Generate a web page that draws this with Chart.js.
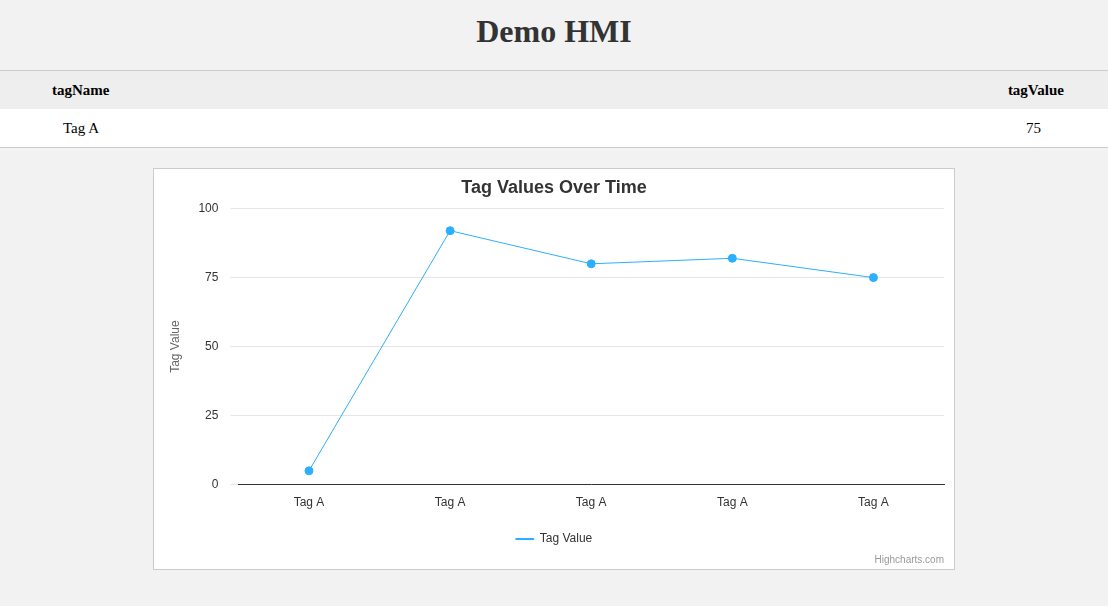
<!DOCTYPE html>
<html><head><meta charset="utf-8">
<script src="https://cdn.jsdelivr.net/npm/chart.js@4"></script>
<style>
body{margin:0;background:#f2f2f2;font-family:"Times New Roman","Liberation Serif",serif;width:1108px;height:606px;overflow:hidden}
h1{margin:0;height:62px;line-height:62px;text-align:center;font-size:32px;color:#333}
table{position:absolute;top:70px;left:0;width:1108px;border-collapse:collapse;border-top:1px solid #ccc;border-bottom:1px solid #ccc;font-size:15px}
th{height:38px;background:#eee;padding:0}
td{height:38px;background:#fff;padding:0}
.l{text-align:left;padding-left:52px}.r{text-align:right;padding-right:44px}
td.l{padding-left:63px}td.r{padding-right:67px}
#box{position:absolute;left:153px;top:168px;width:800px;height:400px;background:#fff;border:1px solid #ccc}
#credit{position:absolute;right:10px;bottom:4px;font:10px "Liberation Sans",Arial,sans-serif;color:#999}
</style></head><body>
<h1>Demo HMI</h1>
<table><tr><th class="l">tagName</th><th class="r">tagValue</th></tr>
<tr><td class="l">Tag A</td><td class="r">75</td></tr></table>
<div id="box"><canvas id="c" width="800" height="400"></canvas><div id="credit">Highcharts.com</div></div>
<script>
const categories=["Tag A","Tag A","Tag A","Tag A","Tag A"];
const tagValues=[5,92,80,82,75];
const yTicks=[0,25,50,75,100];
Chart.defaults.font.family='"Liberation Sans",Arial,sans-serif';
new Chart(document.getElementById('c'),{type:'line',
data:{labels:categories,datasets:[{label:'Tag Value',data:tagValues,borderColor:'#2caffe',backgroundColor:'#2caffe',borderWidth:1,pointRadius:4,pointHoverRadius:4,tension:0}]},
options:{responsive:false,animation:false,
layout:{padding:{left:10,right:10,bottom:14,top:0}},
plugins:{title:{display:true,text:'Tag Values Over Time',color:'#333',font:{size:18,weight:'bold'},padding:{top:8,bottom:10}},
legend:{position:'bottom',labels:{color:'#333',font:{size:12},boxWidth:18,boxHeight:1,usePointStyle:false,padding:20}},tooltip:{enabled:false}},
scales:{x:{offset:true,grid:{display:false},border:{color:'#333'},ticks:{color:'#333',font:{size:12}}},
y:{min:0,max:100,afterBuildTicks:a=>{a.ticks=yTicks.map(v=>({value:v}))},grid:{color:'#e6e6e6'},border:{display:false},
ticks:{color:'#333',font:{size:12},padding:12},title:{display:true,text:'Tag Value',color:'#666',font:{size:12}}}}}});
</script></body></html>
